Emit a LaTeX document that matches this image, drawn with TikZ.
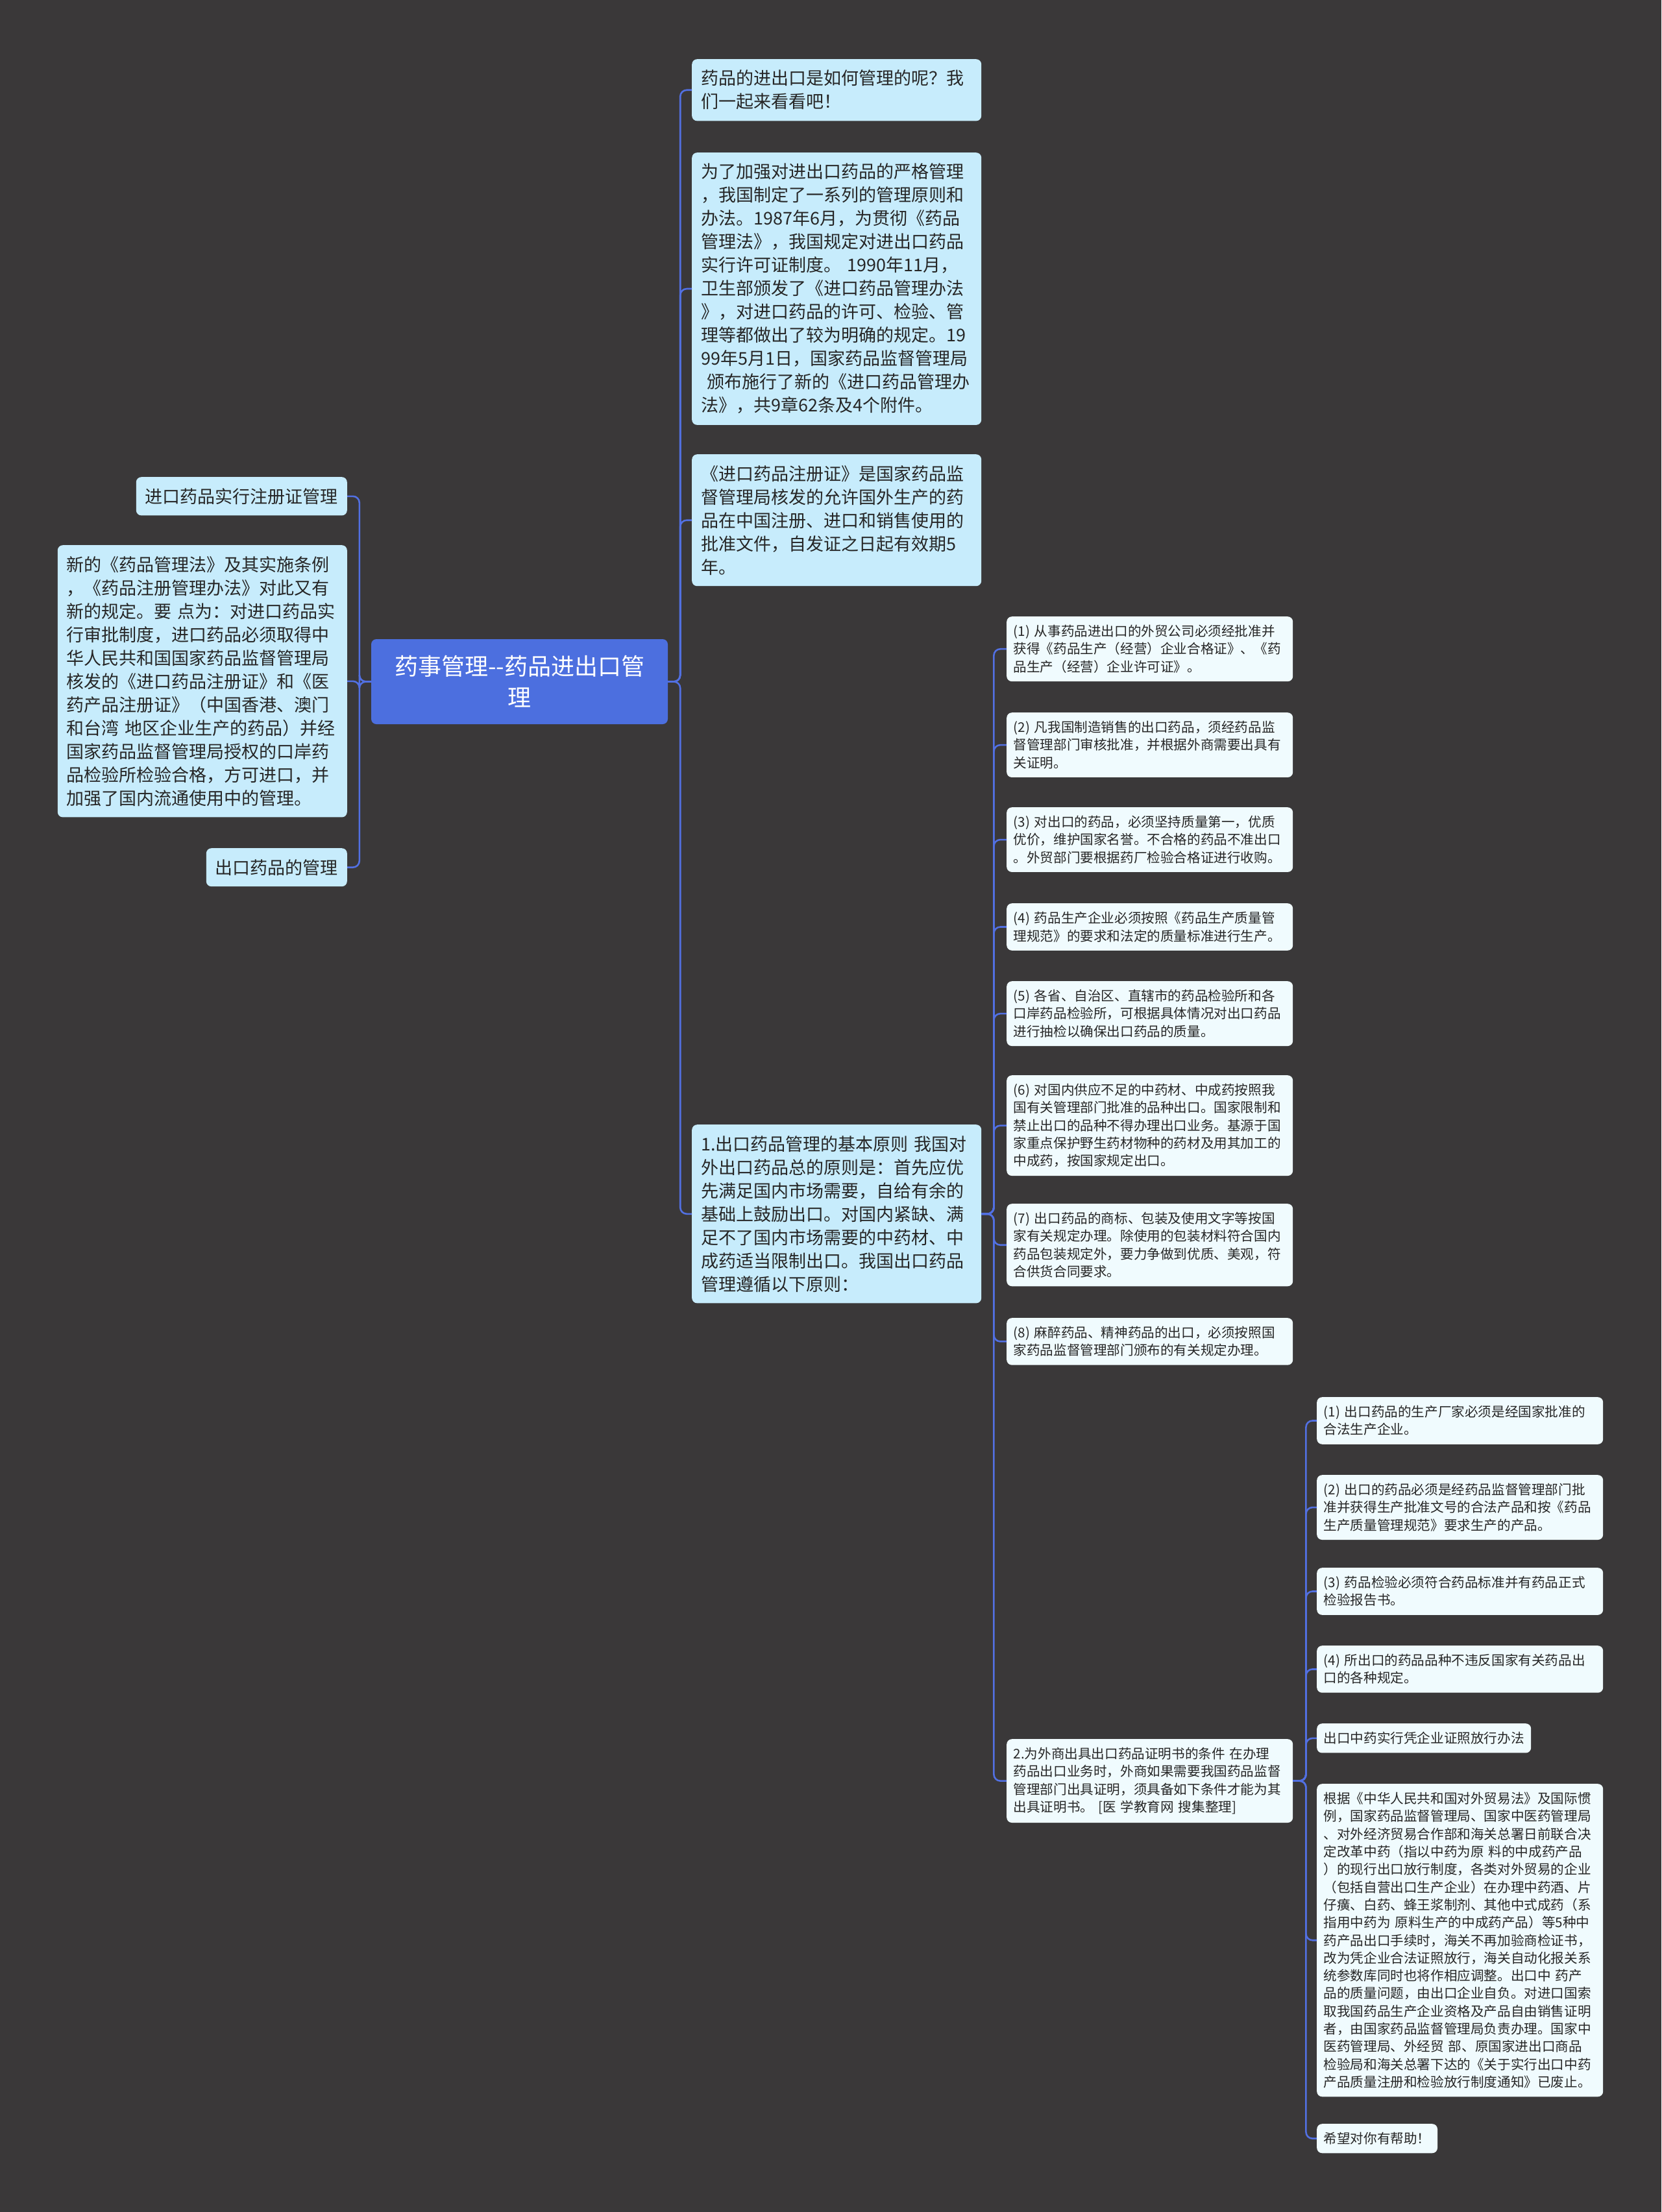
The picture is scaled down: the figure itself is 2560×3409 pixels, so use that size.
\documentclass[tikz,border=0pt]{standalone}
\usepackage{fontspec}
\setmainfont{Noto Sans CJK SC}
\usepackage{tikz}
\usetikzlibrary{positioning}
\definecolor{bgcol}{RGB}{58,56,57}
\definecolor{rootcol}{RGB}{76,111,223}
\definecolor{lvlone}{RGB}{199,236,252}
\definecolor{lvltwo}{RGB}{240,251,254}
\definecolor{linkcol}{RGB}{82,112,226}
\definecolor{txtcol}{RGB}{38,38,38}

\begin{document}
\begin{tikzpicture}
  [x=1pt, y=-1pt,
  every node/.style={rounded corners=8pt, text=txtcol},
  root/.style={fill=rootcol, text=white, text width=430pt, align=center,
    inner xsep=13.5pt, inner ysep=0pt, minimum height=131pt,
    font=\fontsize{36pt}{48pt}\selectfont},
  topic/.style={fill=lvlone, align=left, inner xsep=14pt, inner ysep=17pt,
    font=\fontsize{27pt}{36pt}\selectfont},
  wide topic/.style={topic, text width=418pt},
  sub/.style={fill=lvltwo, align=left, inner xsep=10.5pt, inner ysep=13pt,
    font=\fontsize{20.6pt}{27.3pt}\selectfont},
  wide sub/.style={sub, text width=420pt},
 ]
  \tikzstyle{link}=[draw=linkcol, line width=2.6pt, rounded corners=10pt]
\fill[bgcol] (0,0) rectangle (2560,3409);
\useasboundingbox (0,0) rectangle (2560,3409);

\node[root] (root) at (800.5,1050.5) {药事管理-\kern0pt-药品进出口管\\理};

\node[wide topic, anchor=north west] (a) at (1066,91)
  {药品的进出口是如何管理的呢？我\\们一起来看看吧！};
\node[wide topic, anchor=north west] (b) at (1066,235)
  {为了加强对进出口药品的严格管理\\，我国制定了一系列的管理原则和\\办法。1987年6月，为贯彻《药品\\管理法》，我国规定对进出口药品\\实行许可证制度。 1990年11月，\\卫生部颁发了《进口药品管理办法\\》，对进口药品的许可、检验、管\\理等都做出了较为明确的规定。19\\99年5月1日，国家药品监督管理局\\~颁布施行了新的《进口药品管理办\\法》，共9章62条及4个附件。};
\node[wide topic, anchor=north west] (c) at (1066,700)
  {《进口药品注册证》是国家药品监\\督管理局核发的允许国外生产的药\\品在中国注册、进口和销售使用的\\批准文件，自发证之日起有效期5\\年。};
\node[wide topic, anchor=north west] (d) at (1066,1733)
  {1.出口药品管理的基本原则 我国对\\外出口药品总的原则是：首先应优\\先满足国内市场需要，自给有余的\\基础上鼓励出口。对国内紧缺、满\\足不了国内市场需要的中药材、中\\成药适当限制出口。我国出口药品\\管理遵循以下原则：};

\node[topic, anchor=north east] (l1) at (535,735) {进口药品实行注册证管理};
\node[wide topic, anchor=north east] (l2) at (535,840)
  {新的《药品管理法》及其实施条例\\，《药品注册管理办法》对此又有\\新的规定。要 点为：对进口药品实\\行审批制度，进口药品必须取得中\\华人民共和国国家药品监督管理局\\核发的《进口药品注册证》和《医\\药产品注册证》（中国香港、澳门\\和台湾 地区企业生产的药品）并经\\国家药品监督管理局授权的口岸药\\品检验所检验合格，方可进口，并\\加强了国内流通使用中的管理。};
\node[topic, anchor=north east] (l3) at (535,1307) {出口药品的管理};

\node[wide sub, anchor=north west] (p1) at (1551,950)
  {(1) 从事药品进出口的外贸公司必须经批准并\\获得《药品生产（经营）企业合格证》、《药\\品生产（经营）企业许可证》。};
\node[wide sub, anchor=north west] (p2) at (1551,1098)
  {(2) 凡我国制造销售的出口药品，须经药品监\\督管理部门审核批准，并根据外商需要出具有\\关证明。};
\node[wide sub, anchor=north west] (p3) at (1551,1244)
  {(3) 对出口的药品，必须坚持质量第一，优质\\优价，维护国家名誉。不合格的药品不准出口\\。外贸部门要根据药厂检验合格证进行收购。};
\node[wide sub, anchor=north west] (p4) at (1551,1392)
  {(4) 药品生产企业必须按照《药品生产质量管\\理规范》的要求和法定的质量标准进行生产。};
\node[wide sub, anchor=north west] (p5) at (1551,1512)
  {(5) 各省、自治区、直辖市的药品检验所和各\\口岸药品检验所，可根据具体情况对出口药品\\进行抽检以确保出口药品的质量。};
\node[wide sub, anchor=north west] (p6) at (1551,1657)
  {(6) 对国内供应不足的中药材、中成药按照我\\国有关管理部门批准的品种出口。国家限制和\\禁止出口的品种不得办理出口业务。基源于国\\家重点保护野生药材物种的药材及用其加工的\\中成药，按国家规定出口。};
\node[wide sub, anchor=north west] (p7) at (1551,1855)
  {(7) 出口药品的商标、包装及使用文字等按国\\家有关规定办理。除使用的包装材料符合国内\\药品包装规定外，要力争做到优质、美观，符\\合供货合同要求。};
\node[wide sub, anchor=north west] (p8) at (1551,2031)
  {(8) 麻醉药品、精神药品的出口，必须按照国\\家药品监督管理部门颁布的有关规定办理。};
\node[wide sub, anchor=north west] (e) at (1551,2680)
  {2.为外商出具出口药品证明书的条件 在办理\\药品出口业务时，外商如果需要我国药品监督\\管理部门出具证明，须具备如下条件才能为其\\出具证明书。 [医 学教育网 搜集整理]};

\node[wide sub, anchor=north west] (q1) at (2029,2153)
  {(1) 出口药品的生产厂家必须是经国家批准的\\合法生产企业。};
\node[wide sub, anchor=north west] (q2) at (2029,2273)
  {(2) 出口的药品必须是经药品监督管理部门批\\准并获得生产批准文号的合法产品和按《药品\\生产质量管理规范》要求生产的产品。};
\node[wide sub, anchor=north west] (q3) at (2029,2416)
  {(3) 药品检验必须符合药品标准并有药品正式\\检验报告书。};
\node[wide sub, anchor=north west] (q4) at (2029,2536)
  {(4) 所出口的药品品种不违反国家有关药品出\\口的各种规定。};
\node[sub, anchor=north west] (q5) at (2029,2656) {出口中药实行凭企业证照放行办法};
\node[wide sub, anchor=north west] (q6) at (2029,2749)
  {根据《中华人民共和国对外贸易法》及国际惯\\例，国家药品监督管理局、国家中医药管理局\\、对外经济贸易合作部和海关总署日前联合决\\定改革中药（指以中药为原 料的中成药产品\\）的现行出口放行制度，各类对外贸易的企业\\（包括自营出口生产企业）在办理中药酒、片\\仔癀、白药、蜂王浆制剂、其他中式成药（系\\指用中药为 原料生产的中成药产品）等5种中\\药产品出口手续时，海关不再加验商检证书，\\改为凭企业合法证照放行，海关自动化报关系\\统参数库同时也将作相应调整。出口中 药产\\品的质量问题，由出口企业自负。对进口国索\\取我国药品生产企业资格及产品自由销售证明\\者，由国家药品监督管理局负责办理。国家中\\医药管理局、外经贸 部、原国家进出口商品\\检验局和海关总署下达的《关于实行出口中药\\产品质量注册和检验放行制度通知》已废止。};
\node[sub, anchor=north west] (q7) at (2029,3273) {希望对你有帮助！};

\foreach \n in {a,b,c,d}
  \draw[link] (root.east) -- ++(19,0) |- (\n.west);
\foreach \n in {l1,l2,l3}
  \draw[link] (root.west) -- ++(-18,0) |- (\n.east);
\foreach \n in {p1,p2,p3,p4,p5,p6,p7,p8,e}
  \draw[link] (d.east) -- ++(19,0) |- (\n.west);
\foreach \n in {q1,q2,q3,q4,q5,q6,q7}
  \draw[link] (e.east) -- ++(20,0) |- (\n.west);
\end{tikzpicture}
\end{document}
